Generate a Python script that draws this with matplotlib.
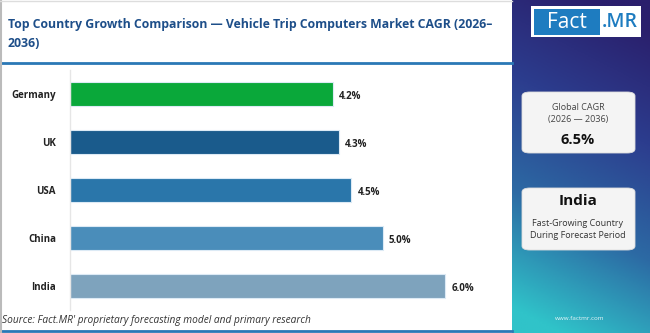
import numpy as np
import matplotlib.pyplot as plt
from matplotlib.colors import LinearSegmentedColormap
from matplotlib.patches import FancyBboxPatch, Rectangle

plt.rcParams['font.family'] = ['Open Sans', 'DejaVu Sans']

# data
countries = ['Germany', 'UK', 'USA', 'China', 'India']
cagr = [4.2, 4.3, 4.5, 5.0, 6.0]
bar_colors = ['#0aa83a', '#1a5b8c', '#2a76aa', '#4a8dba', '#7ea3bd']
labels = ['4.2%', '4.3%', '4.5%', '5.0%', '6.0%']

title = 'Top Country Growth Comparison \u2014 Vehicle Trip Computers Market CAGR (2026\u2013\n2036)'
source = "Source: Fact.MR' proprietary forecasting model and primary research"
global_cagr = '6.5%'
top_country = 'India'

W, H = 650, 333
fig = plt.figure(figsize=(W / 100, H / 100), dpi=100)
fig.patch.set_facecolor('white')

def fx(px):
    return px / W

def fy(py):
    return 1 - py / H

# right side gradient panel
gax = fig.add_axes([fx(512), 0, fx(W - 512), 1])
rows, cols = np.mgrid[0:1:200j, 0:1:80j]
t = np.clip(0.95 * rows + 0.2 * (1 - cols) - 0.08, 0, 1)
cmap = LinearSegmentedColormap.from_list('fmr', ['#2a1f6c', '#2c3d8e', '#2c6aa4', '#30c3c9'])
gax.imshow(t, cmap=cmap, aspect='auto', extent=[0, 1, 0, 1], origin='upper')
gax.set_axis_off()

# main bar chart
ax = fig.add_axes([fx(70), fy(310), fx(507.5) - fx(70), fy(70) - fy(310)])
y = np.arange(len(countries))
ax.barh(y, cagr, height=0.48, color=bar_colors, edgecolor='#dceaf5', linewidth=0.8)
for yi, v, lab in zip(y, cagr, labels):
    ax.text(v + 0.1, yi + 0.05, lab, va='center', ha='left', fontsize=7, fontweight='bold', color='#222222')
ax.set_yticks(y)
ax.set_yticklabels(countries, fontsize=7, fontweight='bold', color='#222222')
ax.tick_params(axis='y', length=0, pad=10)
ax.set_xticks([])
ax.set_xlim(0, 7)
ax.set_ylim(4.5, -0.5)
for s in ['top', 'right', 'bottom']:
    ax.spines[s].set_visible(False)
ax.spines['left'].set_color('#e6e6e6')
ax.spines['left'].set_linewidth(1)

# title and frame lines
fig.text(fx(8), fy(34), title, fontsize=8.85, fontweight='bold', color='#1d4e89',
         va='center', ha='left', linespacing=1.6)
fig.add_artist(plt.Line2D([0, fx(512)], [fy(63), fy(63)], color='#2a78b6', lw=2))
fig.add_artist(plt.Line2D([0, fx(512)], [fy(331), fy(331)], color='#2a78b6', lw=2))
fig.add_artist(plt.Line2D([fx(1), fx(1)], [0, 1], color='#bbbbbb', lw=1.5))
fig.add_artist(plt.Line2D([0, fx(512)], [fy(1), fy(1)], color='#dddddd', lw=1))
fig.text(fx(2), fy(320), source, fontsize=7.3, style='italic', color='#333333', va='center', ha='left')

# logo
fig.add_artist(Rectangle((fx(531), fy(37)), fx(110), fy(6) - fy(37), facecolor='white', edgecolor='none'))
fig.add_artist(Rectangle((fx(534), fy(35)), fx(66), fy(9) - fy(35), facecolor='#1e7cc0', edgecolor='none'))
fig.text(fx(567), fy(22), 'Fact', fontsize=15, color='white', ha='center', va='center')
fig.text(fx(620), fy(22), '.MR', fontsize=14, color='#1e7cc0', fontweight='semibold', ha='center', va='center')

# info cards
for top, bot in [(92, 153), (188, 250)]:
    fig.add_artist(FancyBboxPatch((fx(522), fy(bot)), fx(113), fy(top) - fy(bot),
                                  boxstyle='round,pad=0,rounding_size=0.012',
                                  facecolor='#f4f4f4', edgecolor='#dddddd', lw=0.6))
fig.text(fx(578), fy(107), 'Global CAGR', fontsize=6.5, color='#444444', ha='center', va='center')
fig.text(fx(578), fy(119), '(2026 \u2014 2036)', fontsize=6.5, color='#444444', ha='center', va='center')
fig.text(fx(578), fy(140), global_cagr, fontsize=10.5, fontweight='bold', color='#111111', ha='center', va='center')
fig.text(fx(578), fy(201), top_country, fontsize=11, fontweight='bold', color='#111111', ha='center', va='center')
fig.text(fx(578), fy(223), 'Fast-Growing Country', fontsize=6.5, color='#333333', ha='center', va='center')
fig.text(fx(578), fy(236), 'During Forecast Period', fontsize=6.5, color='#333333', ha='center', va='center')
fig.text(fx(580), fy(319), 'www.factmr.com', fontsize=4.5, color='#e8f4f8', ha='center', va='center')

fig.savefig('out.png', dpi=100, facecolor='white')
